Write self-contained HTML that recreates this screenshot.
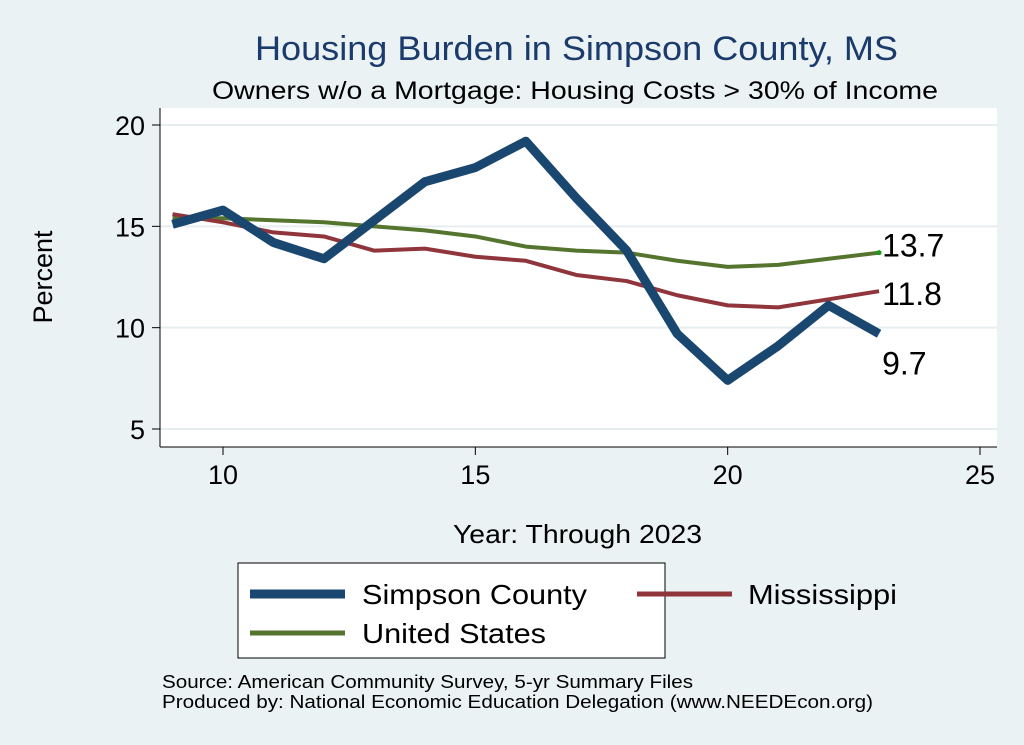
<!DOCTYPE html>
<html><head><meta charset="utf-8"><style>
body{margin:0;background:#eaf2f3;}
svg{display:block;font-family:"Liberation Sans",sans-serif;}
</style></head><body>
<svg id="chart" width="1024" height="745">
<rect width="1024" height="745" fill="#eaf2f3"/>
<text x="255" y="60" font-size="34" fill="#1a3b6c" textLength="643" lengthAdjust="spacingAndGlyphs">Housing Burden in Simpson County, MS</text>
<text x="212" y="99" font-size="25" fill="#000" textLength="726" lengthAdjust="spacingAndGlyphs">Owners w/o a Mortgage: Housing Costs &gt; 30% of Income</text>
<rect x="160" y="108" width="837" height="339" fill="#fff"/>
<g id="grid"></g>
<g id="axes"></g>
<g id="series"></g>
<text x="52" y="277" text-anchor="middle" font-size="27" transform="rotate(-90 52 277)">Percent</text>
<text x="453" y="543" font-size="26" textLength="249" lengthAdjust="spacingAndGlyphs">Year: Through 2023</text>
<g>
<rect x="238" y="563" width="427" height="95" fill="#fff" stroke="#000" stroke-width="1"/>
<g><line x1="250" y1="594" x2="345" y2="594" stroke="#1a476f" stroke-width="9"/><text x="362" y="604" font-size="28" textLength="225" lengthAdjust="spacingAndGlyphs">Simpson County</text></g>
<g><line x1="637" y1="594" x2="732" y2="594" stroke="#90353b" stroke-width="5"/><text x="748" y="604" font-size="28" textLength="149" lengthAdjust="spacingAndGlyphs">Mississippi</text></g>
<g><line x1="250" y1="633" x2="345" y2="633" stroke="#55752f" stroke-width="5"/><text x="362" y="643" font-size="28" textLength="184" lengthAdjust="spacingAndGlyphs">United States</text></g>
</g>
<text x="162" y="688" font-size="18" textLength="531" lengthAdjust="spacingAndGlyphs">Source: American Community Survey, 5-yr Summary Files</text>
<text x="162" y="708" font-size="18" textLength="711" lengthAdjust="spacingAndGlyphs">Produced by: National Economic Education Delegation (www.NEEDEcon.org)</text>
</svg>
<script>
const years=[9,10,11,12,13,14,15,16,17,18,19,20,21,22,23];
const simpson=[15.1,15.8,14.2,13.4,15.3,17.2,17.9,19.2,16.4,13.8,9.7,7.4,9.1,11.1,9.7];
const mississippi=[15.6,15.2,14.7,14.5,13.8,13.9,13.5,13.3,12.6,12.3,11.6,11.1,11.0,11.4,11.8];
const us=[15.4,15.4,15.3,15.2,15.0,14.8,14.5,14.0,13.8,13.7,13.3,13.0,13.1,13.4,13.7];
const xTicks=[10,15,20,25];
const yTicks=[5,10,15,20];
const NS="http://www.w3.org/2000/svg";
function X(v){return 223+(v-10)*(757/15);}
function Y(v){return 125+(20-v)*(304/15);}
function mk(t,a,p){const e=document.createElementNS(NS,t);for(const k in a)e.setAttribute(k,a[k]);p.appendChild(e);return e;}
const grid=document.getElementById('grid'),axes=document.getElementById('axes'),ser=document.getElementById('series');
mk('line',{x1:160,y1:447,x2:997,y2:447,stroke:'#000','stroke-width':1},axes);
mk('line',{x1:160,y1:108,x2:160,y2:447,stroke:'#000','stroke-width':1},axes);
yTicks.forEach(v=>{
 const g=mk('line',{x1:160,y1:Y(v),x2:997,y2:Y(v),stroke:'#e6eef0','stroke-width':2},grid);
 
 mk('line',{x1:152,y1:Y(v),x2:160,y2:Y(v),stroke:'#000'},axes);
 const t=mk('text',{x:145,y:Y(v)+10,'text-anchor':'end','font-size':27},axes);t.textContent=v;
 
});
xTicks.forEach(v=>{
 mk('line',{x1:X(v),y1:447,x2:X(v),y2:455,stroke:'#000'},axes);
 const t=mk('text',{x:X(v),y:484,'text-anchor':'middle','font-size':27},axes);t.textContent=v;
 
});
function line(data,color,w,name){
 const p=mk('polyline',{points:data.map((d,i)=>X(years[i])+','+Y(d)).join(' '),fill:'none',stroke:color,'stroke-width':w,'stroke-linejoin':'round'},ser);
 
}
line(us,'#55752f',4,'us-line');
line(mississippi,'#90353b',4,'mississippi-line');
line(simpson,'#1a476f',9,'simpson-line');
const n=years.length-1;
mk('circle',{cx:X(years[n]),cy:Y(us[n]),r:2.5,fill:'#1a9a1a'},ser);
[[us[n],-6,'us-end-label'],[mississippi[n],4,'mississippi-end-label'],[simpson[n],31,'simpson-end-label']].forEach(([v,dy,nm])=>{
 const t=mk('text',{x:X(years[n])+3,y:Y(v)+dy+10,'font-size':32},ser);t.textContent=v.toFixed(1);
 
});
</script>
</body></html>
